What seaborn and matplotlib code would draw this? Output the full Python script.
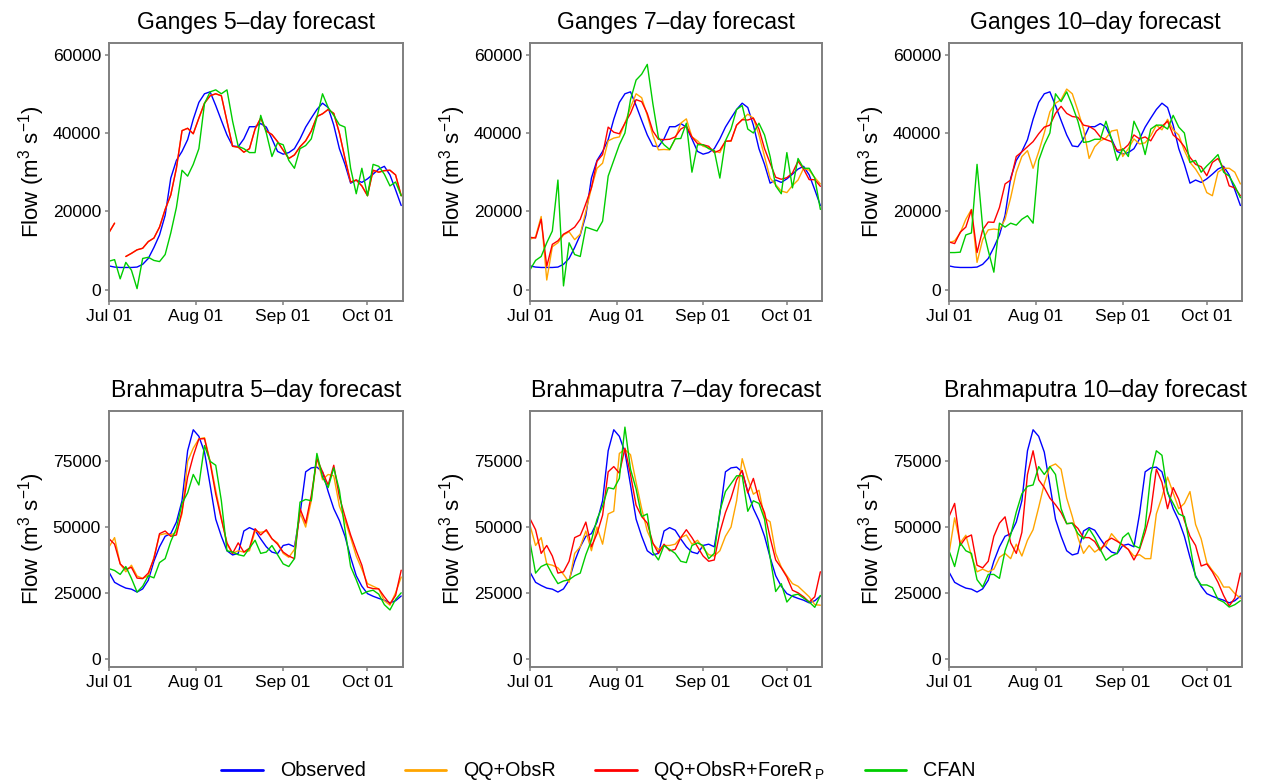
import numpy as np
import pandas as pd
import matplotlib
matplotlib.use("Agg")
import matplotlib.pyplot as plt
import matplotlib.dates as mdates
import seaborn as sns

# Monsoon-season flows, sampled every second day from 1 July to 13 October
dates = pd.date_range("2016-07-01", periods=53, freq="2D")

series_names = ["Observed", "QQ+ObsR", r"QQ+ObsR+ForeR$_{\,P}$", "CFAN"]
series_colors = ["#0000FF", "#FFA500", "#FF0000", "#00CD00"]

# ---------------- Ganges ----------------
gan_obs = [6100, 5800, 5700, 5700, 5700, 5800, 6500, 8000, 10800, 14000,
           19000, 28500, 33000, 35300, 38300, 43500, 47800, 50000, 50500, 47000,
           43200, 39500, 36700, 36500, 38500, 41600, 41600, 42400, 41500, 38500,
           35300, 34600, 35000, 36000, 38500, 41500, 43800, 46000, 47600, 46500,
           42000, 36000, 32000, 27200, 28000, 27400, 28300, 29500, 30800, 31500,
           29300, 25500, 21500]

gan5_qqf = [14600, 17000, np.nan, 8500, 9300, 10200, 10600, 12300, 13200, 16000,
            20500, 24200, 31000, 40600, 41200, 39800, 43800, 47600, 49500, 50000,
            49500, 43000, 36600, 36400, 35100, 36000, 41000, 43800, 40500, 39600,
            37800, 35600, 33500, 34400, 36500, 38000, 40500, 44200, 44900, 46000,
            45000, 40000, 33500, 27500, 28000, 26500, 24000, 30500, 30000, 30400,
            30500, 29300, 24000]
# at the 5-day lead the two corrected forecasts coincide
gan5_qq = list(gan5_qqf)
gan5_cfan = [7300, 7700, 2800, 7000, 5000, 300, 8000, 8300, 7500, 7200,
             9000, 14500, 21000, 30500, 29000, 32000, 36000, 47500, 50500, 51000,
             50000, 51000, 43000, 36600, 36000, 35000, 35000, 44500, 40000, 34000,
             37500, 37000, 33000, 31000, 36000, 36800, 38500, 44000, 50000, 46500,
             44500, 42100, 41500, 31000, 24500, 31000, 24000, 32000, 31500, 29500,
             26500, 27500, 24000]

gan7_qq = [12900, 13500, 18700, 2500, 11000, 12000, 14000, 14800, 12800, 14200,
           20000, 26000, 31000, 32300, 38000, 38700, 39000, 42500, 46500, 50000,
           49000, 44500, 39400, 35700, 35800, 35700, 38500, 42500, 43600, 39000,
           38000, 36600, 36300, 35400, 35000, 37900, 37900, 42000, 43400, 44800,
           43800, 39500, 34000, 28500, 26800, 25200, 24800, 26600, 28000, 31000,
           30500, 28600, 27000]
gan7_qqf = [13400, 13200, 18000, 6000, 11600, 12500, 14200, 15000, 16000, 18000,
            22000, 26000, 32800, 34500, 41500, 40200, 39800, 42500, 45000, 48500,
            48000, 45000, 40500, 38400, 38300, 38400, 39000, 41000, 41800, 39000,
            37300, 37000, 36600, 35000, 35600, 37900, 38000, 42000, 43400, 43300,
            43800, 41000, 36000, 32300, 28700, 28200, 28600, 29800, 32800, 30800,
            28100, 28100, 26400]
gan7_cfan = [5100, 7500, 8500, 12000, 15000, 28000, 1000, 12000, 9000, 8500,
             16000, 15500, 15000, 17500, 29000, 33000, 37000, 40000, 48500, 53500,
             55000, 57500, 47500, 38800, 37000, 35800, 38500, 38600, 42500, 30000,
             37000, 37000, 36000, 35500, 28500, 38000, 41000, 46000, 47000, 41000,
             40000, 42500, 39500, 34000, 26500, 24500, 35000, 26000, 33500, 31000,
             31000, 28500, 20500]

gan10_qq = [12000, 12500, 14500, 18000, 20500, 7000, 12800, 15300, 15500, 15300,
            18000, 23500, 30000, 34000, 35500, 31000, 35200, 40000, 45400, 47600,
            48500, 51200, 50000, 45700, 41000, 33500, 36500, 38000, 38700, 40500,
            40800, 34000, 36000, 38500, 37200, 37500, 39300, 42000, 40800, 43500,
            40800, 39500, 35500, 32500, 30800, 28500, 24800, 24000, 30000, 31000,
            31000, 30000, 27000]
gan10_qqf = [12200, 11800, 14700, 16000, 20400, 9500, 15300, 17300, 17200, 21000,
             27000, 28000, 34000, 35200, 36500, 37800, 39800, 41500, 42000, 45000,
             46800, 45000, 44200, 44000, 42000, 41700, 40800, 39000, 38300, 37800,
             35600, 35700, 37000, 39500, 38500, 39000, 38000, 40500, 41700, 43000,
             39500, 38300, 36500, 33800, 32000, 31400, 29100, 32500, 33500, 31000,
             26500, 26000, 24000]
gan10_cfan = [9500, 9500, 9600, 14000, 14500, 32000, 16000, 10000, 4500, 17000,
              16000, 17000, 16500, 18000, 18900, 17000, 33000, 37000, 40000, 50000,
              48000, 50500, 47000, 43000, 37600, 37800, 38400, 38400, 43000, 38500,
              33000, 36000, 34000, 43000, 40000, 34500, 41000, 42000, 42000, 41000,
              44500, 41500, 40000, 32500, 33000, 30000, 31600, 33000, 34500, 30000,
              29000, 26500, 23500]

# ---------------- Brahmaputra ----------------
brah_obs = [32900, 29000, 27800, 26800, 26400, 25300, 26500, 29800, 37000, 42500,
            46500, 47500, 51900, 60000, 79000, 87000, 84500, 78500, 66000, 53000,
            46500, 41000, 39400, 40000, 48500, 49800, 48800, 45500, 42500, 40500,
            39900, 43000, 43500, 42500, 55000, 71000, 72500, 72800, 71000, 63500,
            57000, 52500, 46500, 38500, 31500, 27500, 24700, 23700, 22900, 22200,
            21200, 22000, 23800]

brah5_qq = [42400, 46000, 36000, 33000, 35500, 31400, 30500, 31500, 38500, 47000,
            47500, 47000, 48000, 55000, 75000, 80000, 83500, 84000, 75000, 64000,
            53500, 43500, 40000, 41000, 40500, 41000, 48500, 48000, 48500, 45500,
            44000, 40000, 38500, 41500, 55500, 50000, 60000, 76500, 68000, 70000,
            69500, 58000, 52500, 46000, 39000, 34000, 28500, 27500, 26500, 22000,
            20300, 25000, 31000]
brah5_qqf = [45600, 43500, 36000, 34000, 34700, 30600, 30400, 32500, 38000, 47500,
             48500, 46500, 47000, 56000, 69000, 77000, 83500, 83600, 74500, 62500,
             53000, 44000, 40000, 44000, 40500, 42000, 49400, 47000, 49000, 45600,
             43500, 40500, 39000, 38000, 57000, 51500, 62000, 76000, 71000, 66000,
             73500, 61500, 54000, 47000, 41000, 35500, 27200, 26600, 26500, 23500,
             20800, 24000, 33600]
brah5_cfan = [34200, 33500, 32000, 35000, 30500, 25300, 27500, 31500, 30700, 36500,
              38000, 44500, 49500, 59000, 63000, 70000, 66000, 81000, 75000, 73500,
              60000, 41000, 40500, 39500, 39000, 42000, 45000, 40000, 40500, 43000,
              39500, 36000, 35000, 38000, 59500, 60500, 60000, 78000, 69000, 65000,
              72500, 64000, 49000, 35000, 30000, 24500, 25500, 26000, 24500, 20500,
              18500, 22500, 25000]

brah7_qq = [50700, 43000, 46000, 36000, 35500, 34500, 32000, 29000, 40000, 42500,
            48500, 41000, 50000, 43500, 55000, 56000, 78000, 79500, 77500, 67000,
            57000, 48500, 43700, 41500, 43000, 43000, 43500, 46000, 47000, 43500,
            45000, 42000, 39500, 39000, 41000, 46500, 50000, 60000, 76000, 68500,
            62500, 64000, 53500, 52000, 40000, 34800, 31500, 28500, 27500, 25500,
            23500, 20500, 20300]
brah7_qqf = [53200, 49000, 40000, 43000, 39000, 32500, 33000, 37000, 46000, 47000,
             51900, 42500, 47500, 54500, 71000, 73000, 70500, 80000, 70000, 58300,
             54000, 51500, 44000, 40000, 43500, 41000, 41500, 46000, 49000, 46000,
             42500, 39000, 37000, 37500, 48000, 55500, 61000, 68000, 71500, 63000,
             68500, 60500, 55500, 46000, 37500, 34500, 31000, 26000, 25000, 23500,
             21500, 23500, 33000]
brah7_cfan = [44300, 32500, 35000, 36000, 32000, 28500, 29500, 30000, 31500, 32500,
              39500, 45000, 53000, 58000, 65000, 64500, 68500, 88000, 72000, 64500,
              54000, 55000, 40500, 37500, 43000, 41500, 40000, 37000, 36500, 43000,
              44000, 43000, 38000, 40000, 56000, 63500, 66500, 69500, 69500, 56000,
              60000, 59000, 53000, 38500, 25500, 28500, 21500, 24000, 24500, 23000,
              21500, 19500, 24000]

brah10_qq = [40000, 53500, 44000, 46900, 39000, 33000, 34000, 33000, 34000, 38500,
             40000, 38000, 43500, 39000, 45000, 49000, 57500, 66500, 73000, 74000,
             72000, 61000, 54000, 46000, 40000, 43000, 40500, 42000, 43000, 47500,
             45000, 43000, 41500, 39000, 39500, 38000, 38000, 55000, 61400, 69000,
             63000, 57000, 59000, 63500, 51000, 45500, 36500, 33500, 31000, 27200,
             27200, 24700, 23000]
brah10_qqf = [54000, 59000, 43000, 46000, 47000, 35500, 34500, 37000, 46500, 51500,
              53900, 44000, 40000, 48000, 70000, 79000, 68000, 65000, 61000, 58500,
              55500, 51300, 51500, 49500, 46000, 46000, 44500, 41000, 44500, 45800,
              44600, 43200, 41500, 37500, 41500, 48000, 56000, 72000, 67000, 57000,
              65000, 60500, 52500, 46500, 43000, 35200, 36000, 33000, 29000, 24000,
              20000, 23000, 32500]
brah10_cfan = [41000, 35000, 44000, 41000, 40000, 30000, 27200, 32000, 32000, 30500,
               41000, 47000, 55700, 62700, 65500, 66000, 73000, 70000, 73000, 70000,
               57000, 51300, 51500, 47500, 45500, 49400, 46000, 41500, 37400, 39000,
               40000, 46000, 47800, 43000, 42000, 50000, 70000, 79000, 77300, 63000,
               59000, 55000, 54000, 43000, 31000, 28000, 28000, 27000, 22500, 21500,
               19600, 20500, 22000]

panels = [
    ("Ganges 5\u2013day forecast", [gan_obs, gan5_qq, gan5_qqf, gan5_cfan]),
    ("Ganges 7\u2013day forecast", [gan_obs, gan7_qq, gan7_qqf, gan7_cfan]),
    ("Ganges 10\u2013day forecast", [gan_obs, gan10_qq, gan10_qqf, gan10_cfan]),
    ("Brahmaputra 5\u2013day forecast", [brah_obs, brah5_qq, brah5_qqf, brah5_cfan]),
    ("Brahmaputra 7\u2013day forecast", [brah_obs, brah7_qq, brah7_qqf, brah7_cfan]),
    ("Brahmaputra 10\u2013day forecast", [brah_obs, brah10_qq, brah10_qqf, brah10_cfan]),
]

ganges_ticks = [0, 20000, 40000, 60000]
brahma_ticks = [0, 25000, 50000, 75000]


def long_frame(values_by_series):
    """Long-format table; a gap (NaN) starts a new line segment."""
    parts = []
    for name, vals in zip(series_names, values_by_series):
        v = np.asarray(vals, dtype=float)
        seg = np.cumsum(np.isnan(v))
        df = pd.DataFrame({"date": dates, "flow": v, "series": name, "seg": seg})
        parts.append(df.dropna())
    return pd.concat(parts, ignore_index=True)


sns.set_theme(style="white")
plt.rcParams["font.family"] = ["Liberation Sans", "DejaVu Sans"]
plt.rcParams["mathtext.default"] = "regular"
plt.rcParams["text.color"] = "black"
plt.rcParams["axes.labelcolor"] = "black"
plt.rcParams["axes.titlecolor"] = "black"
plt.rcParams["xtick.labelcolor"] = "black"
plt.rcParams["ytick.labelcolor"] = "black"

fig = plt.figure(figsize=(12.61, 7.82), dpi=100)

col_left = [0.0864, 0.4203, 0.7526]
col_width = [0.2331, 0.2316, 0.2324]
row_bottom = [0.6151, 0.1471]
row_height = [0.3299, 0.3274]

frame_grey = "#7F7F7F"
x0 = dates[0]
x1 = dates[0] + pd.Timedelta(days=104.6)
palette = dict(zip(series_names, series_colors))

handles = labels = None
for i, (title, vals) in enumerate(panels):
    r, c = divmod(i, 3)
    ax = fig.add_axes([col_left[c], row_bottom[r], col_width[c], row_height[r]])
    data = long_frame(vals)
    sns.lineplot(data=data, x="date", y="flow", hue="series", hue_order=series_names,
                 palette=palette, units="seg", estimator=None, linewidth=1.0,
                 ax=ax, legend=(i == 0))
    if i == 0:
        handles, labels = ax.get_legend_handles_labels()
        ax.get_legend().remove()

    ax.set_xlim(x0, x1)
    if r == 0:
        ax.set_ylim(-2850, 62950)
        ax.set_yticks(ganges_ticks)
    else:
        ax.set_ylim(-3180, 94150)
        ax.set_yticks(brahma_ticks)
    ax.yaxis.set_major_formatter(matplotlib.ticker.FuncFormatter(lambda v, p: f"{int(v)}"))
    ax.xaxis.set_major_locator(mdates.MonthLocator(bymonthday=1))
    ax.xaxis.set_major_formatter(mdates.DateFormatter("%b %d"))

    for sp in ax.spines.values():
        sp.set_color(frame_grey)
        sp.set_linewidth(1.4)
    ax.tick_params(axis="both", which="major", direction="out", length=3.2, width=1.1,
                   color=frame_grey, labelcolor="black", labelsize=12.6, pad=2.5,
                   bottom=True, left=True)
    ax.set_xlabel("")
    ax.set_ylabel("Flow (m$^3$ s$^{-1}$)", fontsize=16, labelpad=4, color="black")
    ax.set_title(title, fontsize=16.6, pad=10, color="black")
    ax.grid(False)

leg = fig.legend(handles, labels, loc="center", bbox_to_anchor=(0.4746, 1 - 771 / 782),
                 ncol=4, frameon=False, fontsize=14.2, handlelength=2.1,
                 handletextpad=0.85, columnspacing=2.0)
for text in leg.get_texts():
    text.set_color("black")
for line in leg.get_lines():
    line.set_linewidth(2.0)

fig.savefig("out.png", dpi=100)
